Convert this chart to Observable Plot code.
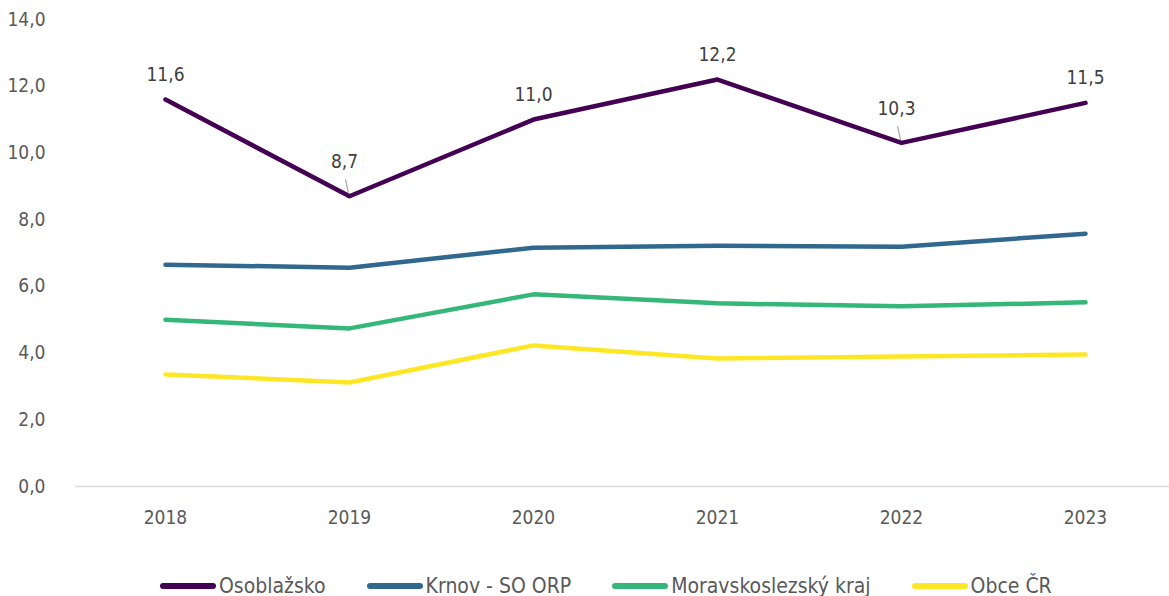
<!DOCTYPE html>
<html>
<head>
<meta charset="utf-8">
<script src="https://cdn.jsdelivr.net/npm/d3@7"></script>
<script src="https://cdn.jsdelivr.net/npm/@observablehq/plot@0.6"></script>
<style>
  body { margin: 0; background: #fff; font-family: "Liberation Sans Narrow", "DejaVu Sans Condensed", Lato, sans-serif; overflow: hidden; }
  #legend { position: relative; height: 36px; margin-top: 8px; display: flex; align-items: center; padding-left: 160px; gap: 41px; font-size: 21px; color: #595959; }
  .item { display: flex; align-items: center; gap: 3px; }
  .sw { width: 56px; height: 6px; border-radius: 3px; }
</style>
</head>
<body>
<div id="chart"></div>
<div id="legend"></div>
<script>
const years = ["2018", "2019", "2020", "2021", "2022", "2023"];
const seriesNames = ["Osoblažsko", "Krnov - SO ORP", "Moravskoslezský kraj", "Obce ČR"];
const colors = ["#440154", "#31688e", "#35b779", "#fde725"];
const osoblazsko = [11.6, 8.7, 11.0, 12.2, 10.3, 11.5];
const krnov = [6.65, 6.56, 7.16, 7.22, 7.19, 7.58];
const msk = [5.0, 4.74, 5.76, 5.49, 5.40, 5.52];
const obceCR = [3.36, 3.12, 4.23, 3.84, 3.90, 3.96];
const yTicks = [0, 2, 4, 6, 8, 10, 12, 14];
const leaderYears = ["2019", "2022"];

const allSeries = [osoblazsko, krnov, msk, obceCR];
const rows = [];
allSeries.forEach((vals, i) => vals.forEach((v, j) => rows.push({series: seriesNames[i], year: years[j], value: v})));
const labelRows = osoblazsko.map((v, j) => ({year: years[j], value: v, leader: leaderYears.includes(years[j])}));
const fmt = d => d.toFixed(1).replace(".", ",");

const font = '"Liberation Sans Narrow", "DejaVu Sans Condensed", Lato, sans-serif';

const chart = Plot.plot({
  width: 1169,
  height: 560,
  marginLeft: 75,
  marginRight: 0,
  marginTop: 19,
  marginBottom: 74,
  style: {fontFamily: font, fontSize: "19px", color: "#595959", background: "#fff"},
  x: {type: "point", domain: years, range: [165, 1085], padding: 0, label: null},
  y: {domain: [0, 14], label: null},
  color: {domain: seriesNames, range: colors},
  marks: [
    Plot.ruleY([0], {stroke: "#d9d9d9", strokeWidth: 1.5}),
    Plot.axisY({ticks: yTicks, tickFormat: fmt, tickSize: 0, tickPadding: 30, fontSize: 19, fill: "#595959"}),
    Plot.axisX({tickSize: 0, tickPadding: 24, fontSize: 19, fill: "#595959"}),
    Plot.line(rows, {x: "year", y: "value", z: "series", stroke: "series", strokeWidth: 4.5, strokeLinejoin: "round", strokeLinecap: "round", sort: null}),
    Plot.link(labelRows.filter(d => d.leader), {x1: "year", x2: "year", y1: "value", y2: "value", stroke: "#a6a6a6", strokeWidth: 1.2,
      render: (index, scales, values, dims, ctx, next) => {
        const g = next(index, scales, values, dims, ctx);
        d3.select(g).selectAll("path").attr("d", (_, k) => {
          const i = index[k];
          const x = values.x1[i], y = values.y1[i];
          return `M${x - 4},${y - 17}L${x - 1},${y - 3}`;
        });
        return g;
      }}),
    Plot.text(labelRows.filter(d => !d.leader), {x: "year", y: "value", text: d => fmt(d.value), dy: -25, fontSize: 19, fill: "#404040"}),
    Plot.text(labelRows.filter(d => d.leader), {x: "year", y: "value", text: d => fmt(d.value), dx: -5, dy: -34, fontSize: 19, fill: "#404040"})
  ]
});
document.getElementById("chart").appendChild(chart);

const legend = document.getElementById("legend");
seriesNames.forEach((n, i) => {
  const it = document.createElement("div");
  it.className = "item";
  it.innerHTML = `<span class="sw" style="background:${colors[i]}"></span><span>${n}</span>`;
  legend.appendChild(it);
});
</script>
</body>
</html>
